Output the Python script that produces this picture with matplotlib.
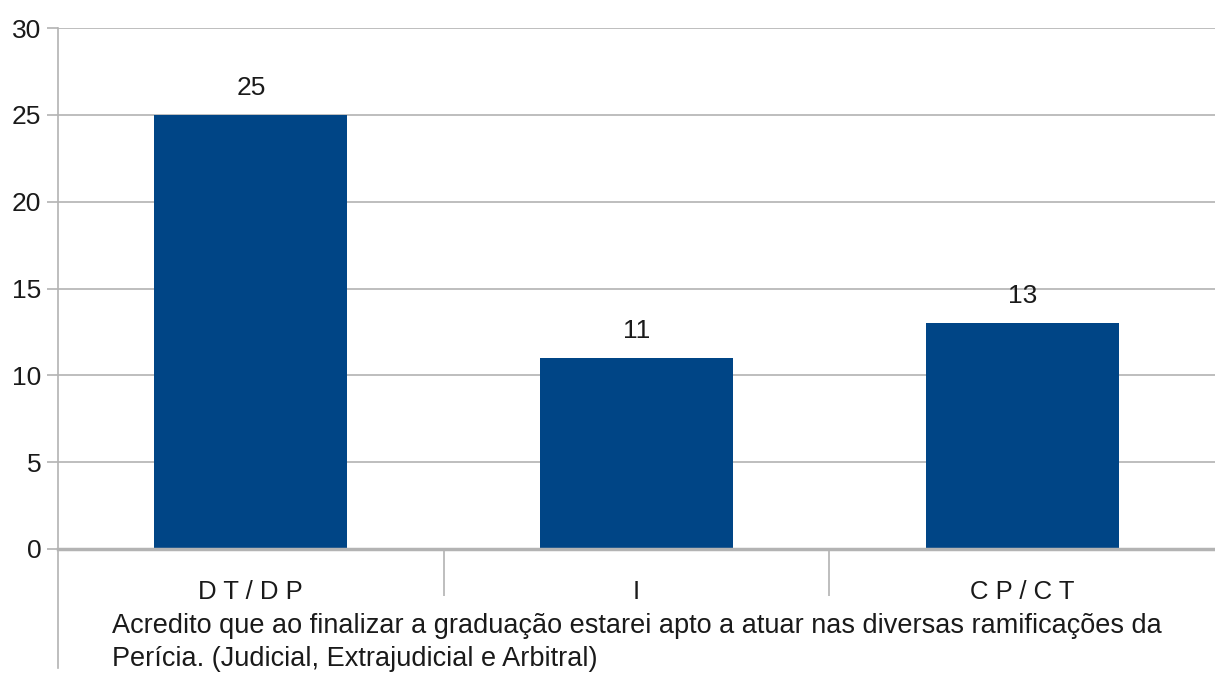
import matplotlib.pyplot as plt
from matplotlib.lines import Line2D

plt.rcParams['font.family'] = ['Liberation Sans', 'DejaVu Sans']

categories = ['D T / D P', 'I', 'C P / C T']
counts = [25, 11, 13]
y_ticks = [0, 5, 10, 15, 20, 25, 30]
axis_title = ('Acredito que ao finalizar a graduação estarei apto a atuar nas diversas ramificações da\n'
              'Perícia. (Judicial, Extrajudicial e Arbitral)')

grey = '#b3b3b3'
text_col = '#1a1a1a'

fig = plt.figure(figsize=(12.15, 6.75), dpi=100)
ax = fig.add_axes([58 / 1215, 1 - 549 / 675, 1 - 58 / 1215, (549 - 28) / 675])

x = list(range(len(categories)))
bars = ax.bar(x, counts, width=0.5, color='#004586', zorder=3)
for b, v in zip(bars, counts):
    ax.annotate(str(v), (b.get_x() + b.get_width() / 2, v), xytext=(0, 11),
                textcoords='offset points', ha='center', va='bottom',
                fontsize=19, color=text_col)

ax.set_xlim(-0.5, len(categories) - 0.5)
ax.set_ylim(0, 30)
ax.set_yticks(y_ticks)
ax.tick_params(axis='y', length=8, width=1.2, color=grey, labelsize=19,
               labelcolor=text_col, pad=4)
ax.yaxis.grid(True, color=grey, linewidth=1.2, zorder=0)

# category labels centred, separators between categories
ax.set_xticks(x)
ax.set_xticklabels(categories, fontsize=18.5, color=text_col)
ax.tick_params(axis='x', which='major', length=0, pad=22)
ax.set_xticks([i + 0.5 for i in x[:-1]], minor=True)
ax.tick_params(axis='x', which='minor', length=34, width=1.2, color=grey)

ax.set_xlabel(axis_title, fontsize=19.5, color=text_col, multialignment='left',
              linespacing=1.35, labelpad=7)

for s in ['top', 'right']:
    ax.spines[s].set_visible(False)
ax.spines['bottom'].set_color(grey)
ax.spines['bottom'].set_linewidth(2.5)
ax.spines['bottom'].set_zorder(4)
ax.spines['left'].set_color(grey)
ax.spines['left'].set_linewidth(1.2)

# left axis line carries on down past the category labels
ax.add_line(Line2D([0, 0], [0, -(668 - 549) / 521], transform=ax.transAxes,
                   color=grey, linewidth=1.2, clip_on=False))

fig.savefig('out.png', dpi=100, facecolor='white')
